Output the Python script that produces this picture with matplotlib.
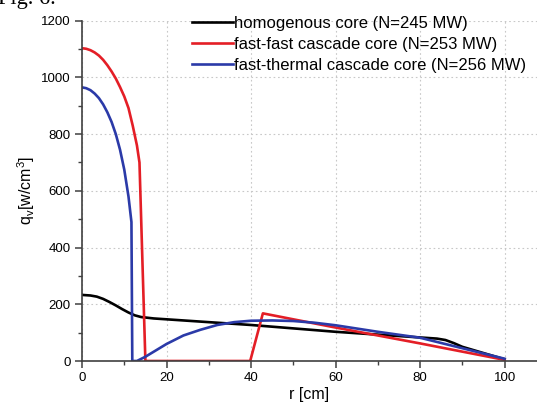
import matplotlib
matplotlib.use("Agg")
import matplotlib.pyplot as plt
from matplotlib.ticker import MultipleLocator

plt.rcParams['font.family'] = ['Liberation Sans', 'DejaVu Sans']

# homogenous core
r_hom = [0, 2, 3.5, 5, 6.5, 8, 9.5, 11, 12.5, 14, 17, 20, 30, 40, 50, 60, 70, 80, 84, 86, 88, 90, 95, 100]
q_hom = [233, 231, 227, 219, 208, 196, 183, 171, 161, 155, 150, 147, 137, 127, 115, 103, 93, 83, 79, 74, 63, 50, 28, 6]

# fast-fast cascade core
r_ff = [0, 1, 2, 3, 4, 5, 6, 7, 8, 9, 10, 11, 12, 13, 13.6, 15, 20, 30, 39.8, 42.8, 50, 60, 70, 80, 90, 100]
q_ff = [1103, 1101, 1096, 1088, 1077, 1062, 1043, 1021, 996, 966, 933, 892, 830, 760, 700, 0, 0, 0, 0, 168, 147, 118, 90, 62, 33, 4]

# fast-thermal cascade core
r_ft = [0, 1, 2, 3, 4, 5, 6, 7, 8, 9, 10, 11, 11.7, 11.9, 13, 15, 17, 20, 24, 28, 32, 36, 40, 45, 50, 55, 60, 70, 80, 90, 100]
q_ft = [965, 962, 955, 943, 927, 905, 877, 843, 800, 745, 675, 580, 490, 0, 0, 15, 33, 60, 90, 110, 127, 137, 142, 143, 141, 135, 126, 103, 82, 45, 8]

labels = ['homogenous core (N=245 MW)',
          'fast-fast cascade core (N=253 MW)',
          'fast-thermal cascade core (N=256 MW)']

W, H = 537, 408
fig = plt.figure(figsize=(W/100, H/100), dpi=100)
left = 82 / W
bottom = 47 / H
height = (361 - 20.7) / H
ax = fig.add_axes([left, bottom, 1 - left, height])

ax.plot(r_hom, q_hom, color='#000000', lw=1.9, label=labels[0])
ax.plot(r_ff, q_ff, color='#e41e26', lw=1.9, label=labels[1])
ax.plot(r_ft, q_ft, color='#2b3aa8', lw=1.9, label=labels[2])

ax.set_xlim(0, (W - 82) / 4.226)
ax.set_ylim(0, 1200)
ax.xaxis.set_major_locator(MultipleLocator(20))
ax.xaxis.set_minor_locator(MultipleLocator(10))
ax.yaxis.set_major_locator(MultipleLocator(200))
ax.yaxis.set_minor_locator(MultipleLocator(100))

for s in ['top', 'right']:
    ax.spines[s].set_visible(False)
for s in ['left', 'bottom']:
    ax.spines[s].set_color('#404040')
    ax.spines[s].set_linewidth(1.2)

ax.tick_params(which='major', direction='out', length=5, width=1.1, color='#404040',
               labelsize=9.5, pad=3)
ax.tick_params(which='minor', direction='out', length=3, width=1.0, color='#404040')
ax.grid(True, which='major', linestyle=(0, (1.5, 2.5)), color='#c8c8c8', lw=0.8)

ax.set_xlabel('r [cm]', fontsize=11.5, labelpad=2)
ax.set_ylabel(r'q$_\mathregular{v}$[w/cm$^\mathregular{3}$]', fontsize=11.5, labelpad=3)

leg = ax.legend(loc='upper left', bbox_to_anchor=((192 - 82) / (W - 82), 1.014),
                frameon=False, fontsize=12, handlelength=2.45, handletextpad=0.1,
                labelspacing=0.35, borderaxespad=0, borderpad=0)

fig.text(-0.003, 1 - 4 / H, 'Fig. 6.', family='Liberation Serif', fontsize=16,
         va='baseline', ha='left')

fig.savefig('out.png', dpi=100)
